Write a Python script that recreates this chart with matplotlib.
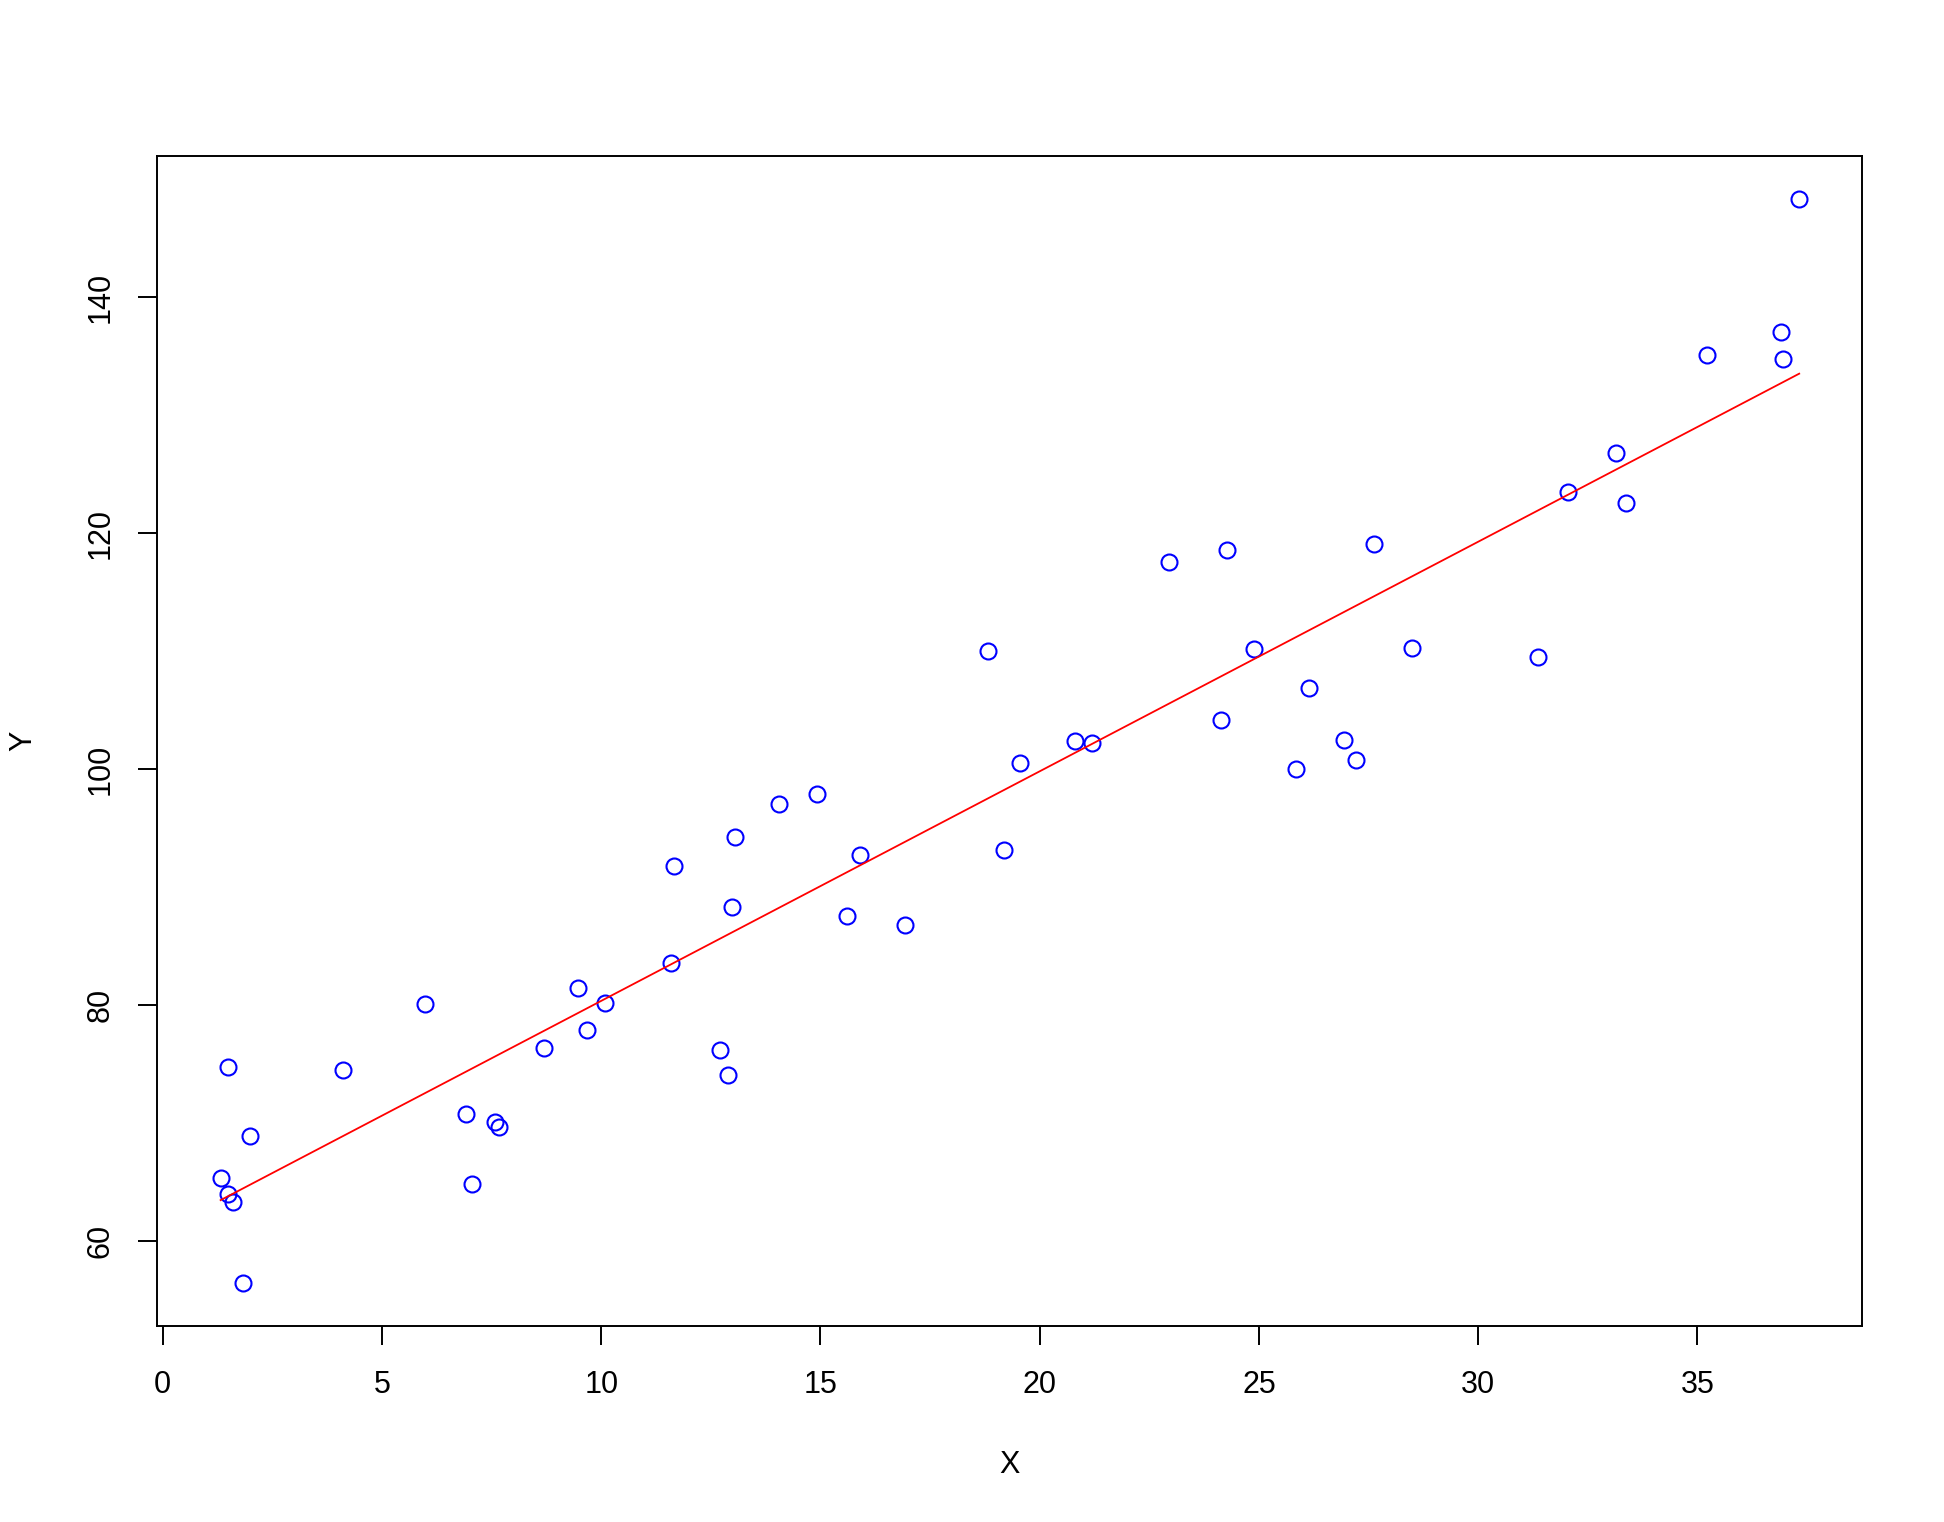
import numpy as np
import matplotlib
matplotlib.use("Agg")
import matplotlib.pyplot as plt

# values
x = [1.32, 1.48, 1.48, 1.60, 1.84, 1.98, 4.10, 5.98, 6.92, 7.06,
     7.57, 7.66, 8.69, 9.48, 9.68, 10.08, 11.60, 11.66, 12.70, 12.90,
     12.98, 13.04, 14.06, 14.93, 15.61, 15.89, 16.93, 18.83, 19.19, 19.56,
     20.80, 21.20, 22.95, 24.13, 24.27, 24.89, 25.85, 26.14, 26.93, 27.21,
     27.63, 28.48, 31.36, 32.04, 33.14, 33.37, 35.21, 36.90, 36.94, 37.32]
y = [65.4, 74.8, 64.0, 63.3, 56.5, 68.9, 74.5, 80.1, 70.8, 64.9,
     70.1, 69.7, 76.4, 81.5, 77.9, 80.2, 83.6, 91.8, 76.2, 74.1,
     88.3, 94.3, 97.1, 97.9, 87.6, 92.7, 86.8, 110.0, 93.2, 100.5,
     102.4, 102.2, 117.6, 104.2, 118.6, 110.2, 100.0, 106.9, 102.5, 100.8,
     119.1, 110.3, 109.5, 123.5, 126.8, 122.6, 135.1, 137.1, 134.8, 148.3]

x = np.array(x)
y = np.array(y)

plt.rcParams['font.family'] = ['Liberation Sans', 'DejaVu Sans']

fig = plt.figure(figsize=(19.44, 15.22), dpi=100)
ax = fig.add_axes([0.081, 0.1288, 0.877, 0.7687])

ax.plot(x, y, 'o', markerfacecolor='none', markeredgecolor='blue',
        markersize=11.5, markeredgewidth=1.5)

# least squares line, drawn only across the data
slope, icpt = np.polyfit(x, y, 1)
xs = np.array([x.min(), x.max()])
ax.plot(xs, icpt + slope * xs, color='red', linewidth=1.3)

# R style 4% padding
xr = x.max() - x.min()
yr = y.max() - y.min()
ax.set_xlim(x.min() - 0.04 * xr, x.max() + 0.04 * xr)
ax.set_ylim(y.min() - 0.04 * yr, y.max() + 0.04 * yr)

ax.set_xticks(np.arange(0, 36, 5))
ax.set_yticks(np.arange(60, 141, 20))
ax.tick_params(labelsize=22, length=14, width=1.4)
ax.tick_params(axis='x', pad=18)
ax.tick_params(axis='y', pad=16)
for lab in ax.get_yticklabels():
    lab.set_rotation(90)
    lab.set_va('center')

for s in ax.spines.values():
    s.set_linewidth(1.4)

ax.set_xlabel("X", fontsize=22, labelpad=36)
ax.set_ylabel("Y", fontsize=22, labelpad=34)

fig.savefig("out.png", dpi=100)
